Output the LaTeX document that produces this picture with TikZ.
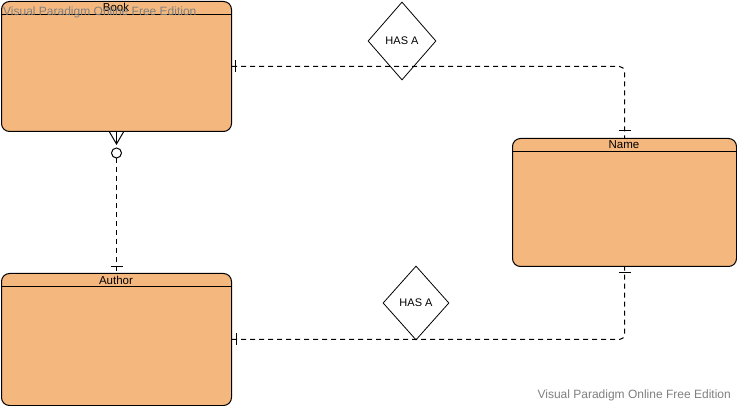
\documentclass[tikz,border=0pt]{standalone}
\usepackage{fontspec}
\setmainfont{Liberation Sans}
\usetikzlibrary{shapes.geometric,calc}
\definecolor{entityfill}{RGB}{244,184,126}
\definecolor{marktext}{RGB}{128,128,128}
\tikzset{
  entity/.style={draw=black, line width=1pt, fill=entityfill, rounded corners=8pt,
    anchor=north west, minimum width=#1, inner sep=0pt},
  rel/.style={draw=black, line width=0.8pt, diamond, aspect=0.87, inner sep=0pt,
    font=\fontsize{11}{13}\selectfont, fill=white},
  conn/.style={draw=black, line width=1pt, dash pattern=on 5pt off 4pt},
  endmark/.style={draw=black, line width=1pt},
  title/.style={font=\fontsize{11.5}{13}\selectfont, inner sep=0pt},
  wm/.style={font=\fontsize{12}{14}\selectfont, text=marktext, inner sep=0pt}
}
\begin{document}
\begin{tikzpicture}[x=1pt,y=-1pt]
\useasboundingbox (0,0) rectangle (737,406);
\fill[white] (0,0) rectangle (737,406);

% entities
\node[entity=230pt, minimum height=130pt] (book) at (1,1) {};
\node[entity=230pt, minimum height=132pt] (author) at (1,273) {};
\node[entity=224pt, minimum height=128pt] (name) at (512,138) {};

% header separators
\draw[line width=0.8pt] (book.west |- 0,14) -- (book.east |- 0,14);
\draw[line width=0.8pt] (author.west |- 0,286) -- (author.east |- 0,286);
\draw[line width=0.8pt] (name.west |- 0,151) -- (name.east |- 0,151);

% entity titles
\node[title] (booktitle) at (116,7) {Book};
\node[title] (authortitle) at (116,280) {Author};
\node[title] (nametitle) at (624,145) {Name};

% relationships
\node[rel, minimum width=68pt, minimum height=78pt] (has1) at (402,41) {HAS A};
\node[rel, minimum width=66pt, minimum height=74pt] (has2) at (416,303) {HAS A};

% connectors
\draw[conn, rounded corners=5pt] (book.east) -| (name.north);
\draw[conn, rounded corners=5pt] (author.east) -| (name.south);
\draw[conn] ($(book.south)+(0,26)$) -- (author.north);

% end marks: one
\draw[endmark] ($(book.east)+(3,-6)$) -- ($(book.east)+(3,6)$);
\draw[endmark] ($(name.north)+(-6,-7)$) -- ($(name.north)+(6,-7)$);
\draw[endmark] ($(author.east)+(4,-6)$) -- ($(author.east)+(4,6)$);
\draw[endmark] ($(name.south)+(-6,6)$) -- ($(name.south)+(6,6)$);
\draw[endmark] ($(author.north)+(-6,-6)$) -- ($(author.north)+(6,-6)$);

% end mark: zero or many
\coordinate (crow) at ($(book.south)+(0,12)$);
\draw[endmark] ($(book.south)+(-7,0)$) -- (crow) -- ($(book.south)+(7,0)$);
\draw[endmark] (book.south) -- (crow);
\draw[endmark, fill=white] ($(book.south)+(0,21)$) circle (5pt);

% edition marks
\node[wm, anchor=base west] (wmtop) at (3,16) {Visual Paradigm Online Free Edition};
\node[wm, anchor=base east] (wmbottom) at (731,399) {Visual Paradigm Online Free Edition};
\end{tikzpicture}
\end{document}
